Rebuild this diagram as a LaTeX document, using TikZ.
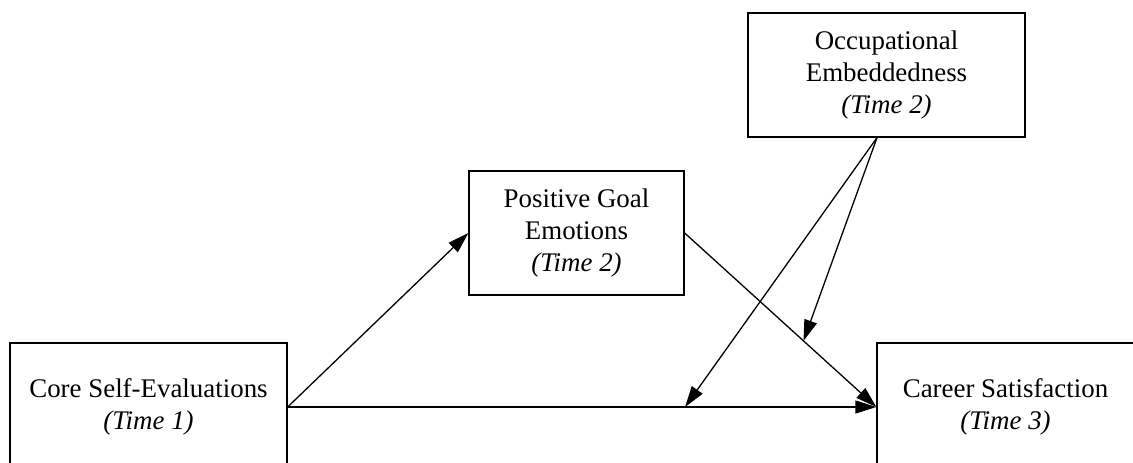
\documentclass[tikz,border=0pt]{standalone}
\usepackage{fontspec}
\setmainfont{Liberation Serif}
\usetikzlibrary{arrows.meta,calc}
\tikzset{
  varbox/.style={draw=black, line width=1.3pt, inner sep=0pt, align=center,
    font=\fontsize{26.9}{32}\selectfont},
  conn/.style={line width=1.3pt, -{Triangle[length=21pt,width=13pt]}},
}
\begin{document}
\begin{tikzpicture}[x=1pt,y=-1pt]
\useasboundingbox (0,0) rectangle (1133,463);
\begin{scope}
\clip (0,0) rectangle (1133,463);
\node[varbox, minimum width=277pt, minimum height=124pt] (occ) at (886.5,75)
  {Occupational\\Embeddedness\\\textit{(Time 2)}};
\node[varbox, minimum width=215pt, minimum height=124pt] (pos) at (576.5,233)
  {Positive Goal\\Emotions\\\textit{(Time 2)}};
\node[varbox, minimum width=277pt, minimum height=128pt] (core) at (148.5,407)
  {Core Self-Evaluations\\\textit{(Time 1)}};
\node[varbox, minimum width=257pt, minimum height=128pt] (car) at (1005.5,407)
  {Career Satisfaction\\\textit{(Time 3)}};
\end{scope}
\coordinate (occs) at ($(occ.south)+(-9.5,0)$);
\draw[conn] (core.east) -- (pos.west);
\draw[conn] (core.east) -- coordinate[pos=0.675] (hmid) (car.west);
\draw[conn] (pos.east) -- coordinate[pos=0.62] (dmid) (car.west);
\draw[conn] (occs) -- (hmid);
\draw[conn] (occs) -- (dmid);
\end{tikzpicture}
\end{document}
